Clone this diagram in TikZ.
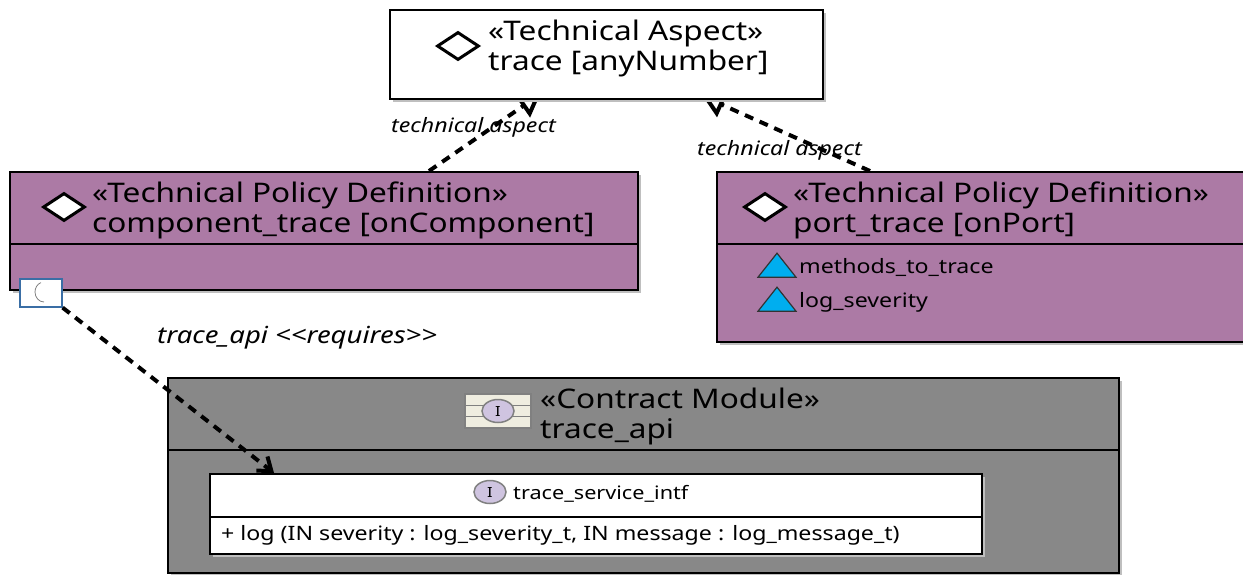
\documentclass[tikz,border=0pt]{standalone}
\usepackage{fontspec}
\setmainfont{Noto Sans}[FakeStretch=1.17]
\usetikzlibrary{arrows.meta,backgrounds,shadows,shapes.geometric}
\definecolor{policy}{HTML}{AC7AA5}
\definecolor{module}{HTML}{888888}
\definecolor{attr}{HTML}{00AEEF}
\definecolor{iface}{HTML}{CFC4E0}
\definecolor{band}{HTML}{EFEDE0}
\definecolor{portline}{HTML}{3A6EA5}

\begin{document}
\begin{tikzpicture}[x=1pt, y=-1pt,
    box/.style={rectangle, draw=black, line width=2pt, anchor=north west, inner sep=0pt, drop shadow={shadow xshift=3pt, shadow yshift=-3pt, fill=black!25, opacity=1}},
    heading/.style={anchor=north west, inner sep=0pt, align=left, font=\fontsize{27}{30}\selectfont},
    member/.style={anchor=base west, inner sep=0pt, font=\fontsize{19.8}{22}\selectfont},
    link/.style={font=\fontsize{19.8}{22}\selectfont\itshape, anchor=base west, inner sep=0pt},
    tag/.style={diamond, aspect=1.5, draw=black, fill=white, line width=3pt, minimum width=42pt, minimum height=28pt, inner sep=0pt},
    attribute/.style={isosceles triangle, isosceles triangle stretches, shape border rotate=90, draw=black!80, fill=attr, line width=1.2pt, minimum width=38pt, minimum height=24pt, inner sep=0pt},
    intf/.style={ellipse, draw=black!50, fill=iface, line width=1.5pt, minimum width=32pt, minimum height=23pt, inner sep=0pt, font=\fontsize{14}{14}\selectfont\bfseries},
    divider/.style={line width=2pt},
    depends/.style={dashed, dash pattern=on 9pt off 7pt, line width=4pt}
]
    \useasboundingbox (0,0) rectangle (1243,574);

    \node[box, fill=white, minimum width=433pt, minimum height=89pt] (trace) at (389,9) {};
    \node[box, fill=policy, minimum width=628pt, minimum height=118pt] (componenttrace) at (9,171) {};
    \node[box, fill=policy, minimum width=540pt, minimum height=170pt] (porttrace) at (716,171) {};
    \node[box, fill=module, minimum width=951pt, minimum height=195pt] (tracemodule) at (167,377) {};
    \node[box, fill=white, minimum width=772pt, minimum height=80pt] (traceservice) at (209,473) {};

    \draw[divider] (componenttrace.west |- 0,244) -- (componenttrace.east |- 0,244);
    \draw[divider] (porttrace.west |- 0,244) -- (1243,244);
    \draw[divider] (tracemodule.west |- 0,450) -- (tracemodule.east |- 0,450);
    \draw[divider] (traceservice.west |- 0,517) -- (traceservice.east |- 0,517);

    \node[tag] (tracetag) at (458,46) {};
    \node[heading] (tracetext) at (488,20) {«Technical Aspect»\\trace [anyNumber]};
    \node[tag] (componenttag) at (64,207) {};
    \node[heading] (componenttext) at (92,182) {«Technical Policy Definition»\\component\_trace [onComponent]};
    \node[tag] (porttag) at (765,207) {};
    \node[heading] (porttext) at (793,182) {«Technical Policy Definition»\\port\_trace [onPort]};

    \node[attribute] (methodsicon) at (777,268) {};
    \node[member] (methods) at (799,273) {methods\_to\_trace};
    \node[attribute] (severityicon) at (777,302) {};
    \node[member] (severity) at (799,307) {log\_severity};

    \node[rectangle, draw=black!50, fill=band, line width=1.5pt, minimum width=66pt, minimum height=34pt, inner sep=0pt] (moduleicon) at (498,411) {};
    \draw[black!50, line width=1.5pt] ([yshift=5.5pt]moduleicon.west) -- ([yshift=5.5pt]moduleicon.east);
    \draw[black!50, line width=1.5pt] ([yshift=-5.5pt]moduleicon.west) -- ([yshift=-5.5pt]moduleicon.east);
    \node[intf] (moduleintf) at (498,411) {I};
    \node[heading] (moduletext) at (540,388) {«Contract Module»\\trace\_api};

    \node[intf] (serviceintf) at (490,492) {I};
    \node[member, font=\fontsize{18.5}{22}\selectfont] (servicename) at (513,499) {trace\_service\_intf};
    \node[member] (logsignature) at (221,540) {+ log (IN severity : log\_severity\_t, IN message : log\_message\_t)};

    \node[rectangle, draw=portline, fill=white, line width=1.2pt, minimum width=42pt, minimum height=28pt, inner sep=0pt] (traceport) at (41,293) {};
    \draw[black!50, line width=0.8pt] ([xshift=3pt,yshift=-9pt]traceport.center) arc[start angle=-90, end angle=-250, x radius=9pt, y radius=10pt];

    \begin{pgfonlayer}{background}
        \node[link] (leftaspect) at (391,132) {technical aspect};
        \node[link] (rightaspect) at (697,155) {technical aspect};
        \draw[depends, -{Triangle[open, length=22pt, width=26pt, line width=4pt]}] ([xshift=105pt]componenttrace.north) -- ([xshift=-66pt,yshift=6pt]trace.south);
        \draw[depends, -{Triangle[open, length=22pt, width=26pt, line width=4pt]}] ([xshift=-117pt]porttrace.north) -- ([xshift=96pt,yshift=4pt]trace.south);
    \end{pgfonlayer}

    \node[link, font=\fontsize{23.5}{26}\selectfont\itshape] (requireslabel) at (157,343) {trace\_api <{}<requires>{}>};
    \draw[depends, -{Straight Barb[length=12pt, width=18pt, line width=4pt]}] (traceport.south east) -- ([xshift=-322pt]traceservice.north);
\end{tikzpicture}
\end{document}
